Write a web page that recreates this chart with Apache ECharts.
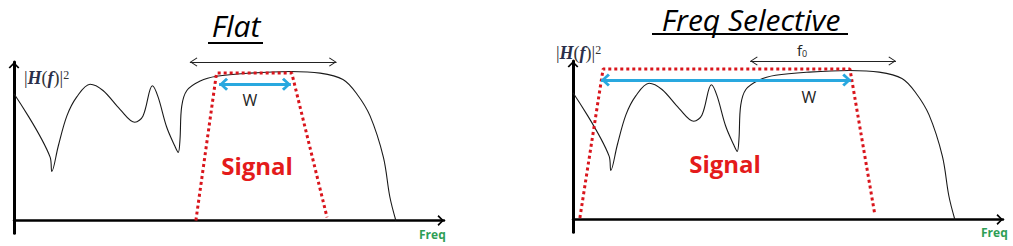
<!DOCTYPE html>
<html>
<head>
<meta charset="utf-8">
<script src="https://cdn.jsdelivr.net/npm/echarts@6/dist/echarts.min.js"></script>
<style>
  html, body { margin: 0; padding: 0; background: #ffffff; }
  #chart { width: 1013px; height: 246px; }
</style>
</head>
<body>
<div id="chart"></div>
<script>
// Channel power response |H(f)|^2 (frequency in arbitrary units, 0..100)
const freq = [0, 8.4, 8.8, 10.3, 12.3, 14.6, 17.7, 20.7, 24.7, 28.1, 30.0, 32.2, 33.5, 35.5, 37.4, 38.2, 38.6, 39.0, 40.2, 43.3, 47.1, 54.9, 64.2, 71.2, 76.5, 79.7, 82.8, 85.9, 87.4, 88.8];
const gain = [0.80, 0.40, 0.31, 0.47, 0.66, 0.78, 0.86, 0.82, 0.70, 0.62, 0.66, 0.85, 0.78, 0.59, 0.47, 0.43, 0.51, 0.72, 0.82, 0.88, 0.91, 0.93, 0.94, 0.93, 0.89, 0.80, 0.66, 0.40, 0.15, 0];

// Signal spectrum outlines (trapezoids)
const flatSigFreq = [42.3, 47.1, 64.6, 72.8];
const flatSigLevel = [0, 0.93, 0.93, 0.02];
const selSigFreq = [1.6, 7.0, 64.4, 70.2];
const selSigLevel = [0.01, 0.95, 0.95, 0.03];

// Double arrows: [from, to, level]
const flatBandwidth = [47.7, 64.4, 0.86];   // W
const selBandwidth = [6.5, 64.7, 0.88];     // W
const flatCoherence = [40.9, 75.0, 1.0];
const selCoherence = [41.2, 75.1, 1.0];     // f0

const pairs = (xs, ys) => xs.map((x, i) => [x, ys[i]]);

// Chevron heads pointing up; an empty point on the far side keeps the tip at the symbol centre
const chevThin = 'path://M10,0 L20,11 L18.6,12 L10,2.6 L1.4,12 L0,11 Z M10,-12 L10,-12 Z';
const chevBold = 'path://M10,0 L20,10 L17,13 L10,5.5 L3,13 L0,10 Z M10,-13 L10,-13 Z';
const chevAxis = 'path://M10,0 L20,10 L17.5,12 L10,4 L2.5,12 L0,10 Z M10,-12 L10,-12 Z';

function arrow(spec) {
  return [
    { coord: [spec[0], spec[2]] },
    { coord: [spec[1], spec[2]] }
  ];
}

const grids = [
  { left: 14, top: 62, width: 430, height: 171.2 },
  { left: 573, top: 61, width: 430, height: 171.2 }
];

function xAx(i) {
  return {
    type: 'value', gridIndex: i, min: 0, max: 100,
    axisLine: { show: true, onZero: true, symbol: ['none', chevAxis], symbolSize: [11, 13],
      lineStyle: { color: '#000', width: 2.5 } },
    axisTick: { show: false }, axisLabel: { show: false }, splitLine: { show: false }
  };
}
function yAx(i) {
  return {
    type: 'value', gridIndex: i, min: -0.08, max: 1.0,
    axisLine: { show: true, onZero: false, symbol: ['none', chevAxis], symbolSize: [11, 13],
      lineStyle: { color: '#000', width: 3 } },
    axisTick: { show: false }, axisLabel: { show: false }, splitLine: { show: false }
  };
}

function channel(i, coh) {
  return {
    type: 'line', xAxisIndex: i, yAxisIndex: i, data: pairs(freq, gain),
    smooth: 0.35, showSymbol: false, silent: true, z: 2,
    lineStyle: { color: '#1a1a1a', width: 1.1 },
    markLine: {
      silent: true, animation: false, symbol: [chevThin, chevThin], symbolSize: [9, 15],
      lineStyle: { color: '#222', width: 1.2, type: 'solid' },
      label: { show: false },
      data: [arrow(coh)]
    }
  };
}
function signal(i, fs, ls, bw) {
  return {
    type: 'line', xAxisIndex: i, yAxisIndex: i, data: pairs(fs, ls),
    showSymbol: false, silent: true, z: 3,
    lineStyle: { color: '#d9151c', width: 3, type: 'dotted' },
    markLine: {
      silent: true, animation: false, symbol: [chevBold, chevBold], symbolSize: [13, 18],
      lineStyle: { color: '#29a8df', width: 3, type: 'solid' },
      label: { show: false },
      data: [arrow(bw)]
    }
  };
}

const hLabel = (x, y) => ({
  type: 'text', x: x, y: y,
  style: {
    text: '{a||}{b|H}{a|(}{b|f}{a|)|}{s|2}',
    verticalAlign: 'middle',
    rich: {
      a: { fontFamily: 'Liberation Serif', fontSize: 18, fill: '#333' },
      b: { fontFamily: 'Liberation Serif', fontStyle: 'italic', fontWeight: 'bold', fontSize: 18, fill: '#2a2f4a' },
      s: { fontFamily: 'Liberation Serif', fontSize: 12, fill: '#333', verticalAlign: 'top' }
    }
  }
});
const txt = (x, y, text, font, fill, align) => ({
  type: 'text', x: x, y: y,
  style: { text: text, font: font, fill: fill, align: align || 'center', verticalAlign: 'middle', lineHeight: 26 }
});
const underline = (x, y, w) => ({ type: 'rect', shape: { x: x, y: y, width: w, height: 2 }, style: { fill: '#000' } });

const chart = echarts.init(document.getElementById('chart'), null, { renderer: 'svg' });
chart.setOption({
  animation: false,
  backgroundColor: '#ffffff',
  grid: grids,
  xAxis: [xAx(0), xAx(1)],
  yAxis: [yAx(0), yAx(1)],
  series: [
    channel(0, flatCoherence),
    channel(1, selCoherence),
    signal(0, flatSigFreq, flatSigLevel, flatBandwidth),
    signal(1, selSigFreq, selSigLevel, selBandwidth)
  ],
  graphic: [
    txt(236, 25, 'Flat', 'italic 30px "Open Sans"', '#000'),
    underline(208, 42, 55),
    txt(751, 19, 'Freq Selective', 'italic 30px "Open Sans"', '#000'),
    underline(652, 33, 196),
    hLabel(24, 78),
    hLabel(556, 53),
    txt(250, 100, 'W', '16px "Open Sans"', '#222'),
    txt(809, 97, 'W', '16px "Open Sans"', '#222'),
    txt(257, 165, 'Signal', 'bold 24px "Open Sans"', '#e41b1b'),
    txt(725, 163, 'Signal', 'bold 24px "Open Sans"', '#e41b1b'),
    txt(419, 234, 'Freq', 'bold 12px "Open Sans"', '#2e9e55', 'left'),
    txt(981, 232, 'Freq', 'bold 12px "Open Sans"', '#2e9e55', 'left'),
    {
      type: 'text', x: 802, y: 50,
      style: {
        text: '{f|f}{z|0}', align: 'center', verticalAlign: 'middle',
        rich: {
          f: { fontFamily: 'Open Sans', fontSize: 15, fill: '#222' },
          z: { fontFamily: 'Open Sans', fontSize: 9, fill: '#222', verticalAlign: 'bottom' }
        }
      }
    }
  ]
});
</script>
</body>
</html>
